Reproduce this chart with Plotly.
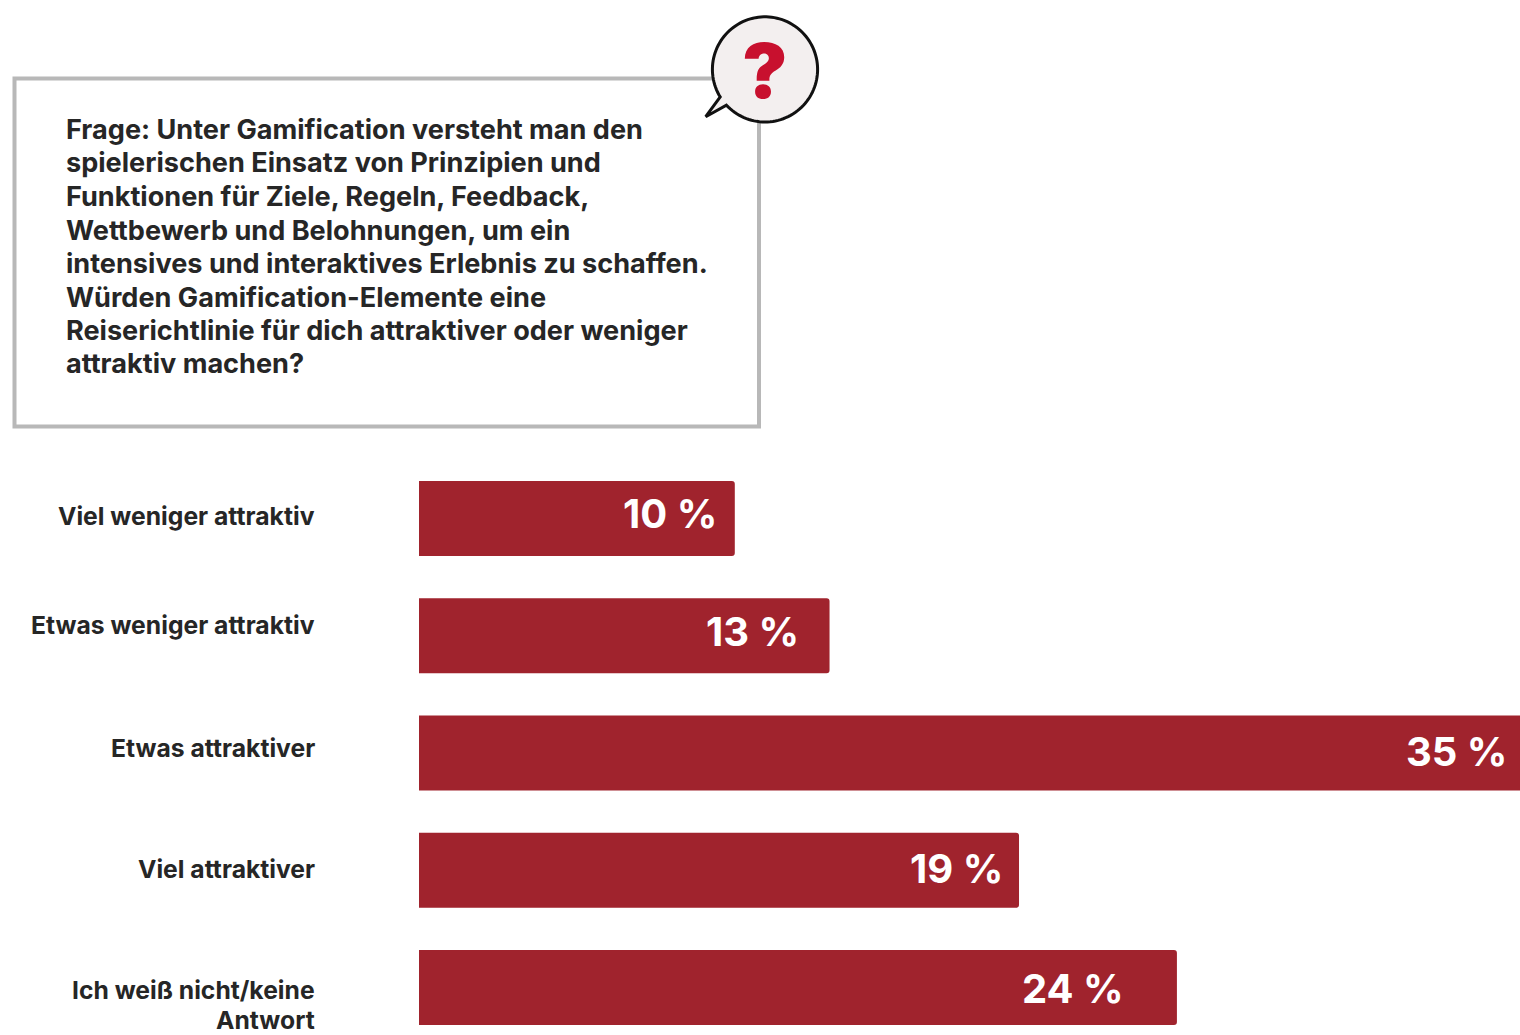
import numpy as np
import plotly.graph_objects as go

W, H = 1520, 1035

categories = ["Viel weniger attraktiv", "Etwas weniger attraktiv", "Etwas attraktiver",
              "Viel attraktiver", "Ich weiß nicht/keine<br>Antwort"]
values = [10, 13, 35, 19, 24]
value_labels = ["10 %", "13 %", "35 %", "19 %", "24 %"]
question_lines = [
    "Frage: Unter Gamification versteht man den",
    "spielerischen Einsatz von Prinzipien und",
    "Funktionen für Ziele, Regeln, Feedback,",
    "Wettbewerb und Belohnungen, um ein",
    "intensives und interaktives Erlebnis zu schaffen.",
    "Würden Gamification-Elemente eine",
    "Reiserichtlinie für dich attraktiver oder weniger",
    "attraktiv machen?",
]

label_yshift = [2, 11, 5, 1, -3]
value_xshift = [-16, -29, -11, -14, -51]
value_yshift = [5, 4, 1, 2, -1]
LABEL_LINE_STEP = 30

FONT = "Inter, Lato, sans-serif"
BAR = "#a0232d"
INK = "#262626"
PX_PER_UNIT = 31.58
X_MAX = 1101 / PX_PER_UNIT
ROW_STEP = 117.25
ROW0_Y = 518.4


def px(x):
    return x / W


def py(y):
    return 1 - y / H


fig = go.Figure(go.Bar(
    y=categories, x=values, orientation="h",
    marker=dict(color=BAR, cornerradius=3, line=dict(width=0)),
    hoverinfo="skip",
))

# Question box
fig.add_shape(type="rect", xref="paper", yref="paper",
              x0=px(14.5), x1=px(759), y0=py(78.5), y1=py(426.5),
              line=dict(color="#b8b8b8", width=4), fillcolor="white", layer="below")

# Speech bubble
cx, cy, r = 765, 69.4, 52.6
a0 = np.arctan2(105 - cy, 726.7 - cx)
a_end = np.arctan2(96.7 - cy, 720.7 - cx)
angles = np.linspace(a0, a0 - (2 * np.pi - abs(a_end - a0)), 120)
pts = [(cx + r * np.cos(a), cy + r * np.sin(a)) for a in angles]
pts.append((705.7, 116.7))
path = "M " + " L ".join(f"{px(x):.5f},{py(y):.5f}" for x, y in pts) + " Z"
fig.add_shape(type="path", xref="paper", yref="paper", path=path,
              fillcolor="#f3efef", line=dict(color="#111111", width=3))

annotations = []
annotations.append(dict(xref="paper", yref="paper", x=px(765), y=py(70), text="?",
                        showarrow=False, xanchor="center", yanchor="middle",
                        font=dict(family=FONT, size=76, color="#c8102e", weight=900)))

for i, line in enumerate(question_lines):
    annotations.append(dict(xref="paper", yref="paper", x=px(64), y=py(129.5 + 33.5 * i),
                            text=line, showarrow=False, xanchor="left", yanchor="middle",
                            font=dict(family=FONT, size=27.1, color=INK, weight=700)))

for i, (cat, val, lab) in enumerate(zip(categories, values, value_labels)):
    for j, part in enumerate(cat.split("<br>")):
        annotations.append(dict(xref="paper", yref="y", x=px(317), y=cat,
                                yshift=label_yshift[i] - LABEL_LINE_STEP * j,
                                text=part, showarrow=False, xanchor="right", yanchor="middle",
                                font=dict(family=FONT, size=24.7, color=INK, weight=700)))
    annotations.append(dict(xref="x", yref="y", x=min(val, X_MAX), y=cat, xshift=value_xshift[i],
                            yshift=value_yshift[i], text=lab, showarrow=False,
                            xanchor="right", yanchor="middle",
                            font=dict(family=FONT, size=40, color="white", weight=700)))

fig.update_layout(
    width=W, height=H, margin=dict(l=0, r=0, t=0, b=0, pad=0),
    paper_bgcolor="white", plot_bgcolor="white", showlegend=False,
    bargap=0.36, annotations=annotations,
    xaxis=dict(domain=[419 / W, 1], range=[0, X_MAX], visible=False, fixedrange=True),
    yaxis=dict(domain=[0, 1], range=[(H - ROW0_Y) / ROW_STEP, -ROW0_Y / ROW_STEP], visible=False,
               type="category", categoryorder="array", categoryarray=categories, fixedrange=True),
)

fig.write_html("out.html", config={"displayModeBar": False},
               post_script="document.body.style.margin='0';document.body.style.overflow='hidden';")
